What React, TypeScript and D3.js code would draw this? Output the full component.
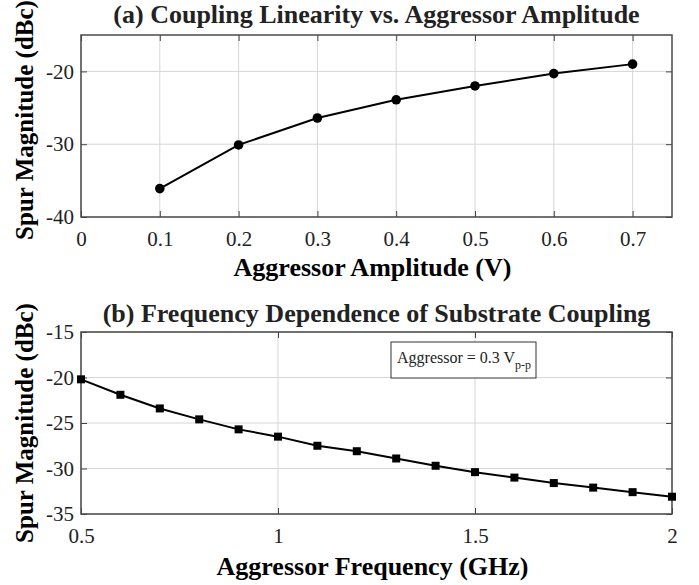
import React, { useEffect, useRef } from 'react';
import * as d3 from 'd3';

const W = 699;
const H = 585;

// panel (a)
const ampV = [0.1, 0.2, 0.3, 0.4, 0.5, 0.6, 0.7];
const ampSpur = [-36.1, -30.1, -26.4, -23.9, -22.0, -20.3, -19.0];
const ampXTicks = [0, 0.1, 0.2, 0.3, 0.4, 0.5, 0.6, 0.7];
const ampYTicks = [-40, -30, -20];

// panel (b)
const freqGHz = [0.5, 0.6, 0.7, 0.8, 0.9, 1.0, 1.1, 1.2, 1.3, 1.4, 1.5, 1.6, 1.7, 1.8, 1.9, 2.0];
const freqSpur = [-20.2, -21.9, -23.4, -24.6, -25.7, -26.5, -27.5, -28.1, -28.9, -29.7, -30.4, -31.0, -31.6, -32.1, -32.6, -33.1];
const freqXTicks = [0.5, 1, 1.5, 2];
const freqYTicks = [-35, -30, -25, -20, -15];

const FONT = 'Liberation Serif, Times New Roman, Times, DejaVu Serif, serif';
const LEFT = 81;
const RIGHT = 672;

interface Panel {
  top: number;
  bottom: number;
  xDomain: [number, number];
  yDomain: [number, number];
  xTicks: number[];
  yTicks: number[];
  xs: number[];
  ys: number[];
  title: string;
  titleY: number;
  xLabel: string;
  xLabelY: number;
  yLabelY: number;
  marker: 'circle' | 'square';
}

function drawPanel(svg: d3.Selection<SVGSVGElement, unknown, null, undefined>, p: Panel) {
  const x = d3.scaleLinear().domain(p.xDomain).range([LEFT, RIGHT]);
  const y = d3.scaleLinear().domain(p.yDomain).range([p.bottom, p.top]);
  const g = svg.append('g');

  // grid
  g.selectAll('line.gx')
    .data(p.xTicks)
    .join('line')
    .attr('x1', (d) => x(d))
    .attr('x2', (d) => x(d))
    .attr('y1', p.top)
    .attr('y2', p.bottom)
    .attr('stroke', '#d6d6d6')
    .attr('stroke-width', 1);
  g.selectAll('line.gy')
    .data(p.yTicks)
    .join('line')
    .attr('x1', LEFT)
    .attr('x2', RIGHT)
    .attr('y1', (d) => y(d))
    .attr('y2', (d) => y(d))
    .attr('stroke', '#d6d6d6')
    .attr('stroke-width', 1);

  const fmt = (d: d3.NumberValue) => `${d}`;

  // axes, ticks pointing inward
  const bottomAx = g
    .append('g')
    .attr('transform', `translate(0,${p.bottom})`)
    .call(d3.axisBottom(x).tickValues(p.xTicks).tickSize(-6).tickPadding(14).tickFormat(fmt));
  const leftAx = g
    .append('g')
    .attr('transform', `translate(${LEFT},0)`)
    .call(d3.axisLeft(y).tickValues(p.yTicks).tickSize(-6).tickPadding(7).tickFormat(fmt));
  const topAx = g
    .append('g')
    .attr('transform', `translate(0,${p.top})`)
    .call(d3.axisTop(x).tickValues(p.xTicks).tickSize(-6).tickFormat(() => ''));
  const rightAx = g
    .append('g')
    .attr('transform', `translate(${RIGHT},0)`)
    .call(d3.axisRight(y).tickValues(p.yTicks).tickSize(-6).tickFormat(() => ''));

  [bottomAx, leftAx, topAx, rightAx].forEach((a) => {
    a.select('.domain').remove();
    a.attr('font-family', null).attr('font-size', null);
    a.selectAll('line').attr('stroke', '#444').attr('stroke-width', 1);
    a.selectAll('text').style('font-family', FONT).style('font-size', '21px').attr('fill', '#222');
  });

  g.append('rect')
    .attr('x', LEFT)
    .attr('y', p.top)
    .attr('width', RIGHT - LEFT)
    .attr('height', p.bottom - p.top)
    .attr('fill', 'none')
    .attr('stroke', '#4a4a4a')
    .attr('stroke-width', 1.5);

  // series
  const pts = p.xs.map((v, i) => [v, p.ys[i]] as [number, number]);
  const line = d3
    .line<[number, number]>()
    .x((d) => x(d[0]))
    .y((d) => y(d[1]));
  g.append('path').datum(pts).attr('fill', 'none').attr('stroke', '#000').attr('stroke-width', 2).attr('d', line);

  if (p.marker === 'circle') {
    g.selectAll('circle.m')
      .data(pts)
      .join('circle')
      .attr('cx', (d) => x(d[0]))
      .attr('cy', (d) => y(d[1]))
      .attr('r', 4.8)
      .attr('fill', '#000');
  } else {
    g.selectAll('rect.m')
      .data(pts)
      .join('rect')
      .attr('x', (d) => x(d[0]) - 4)
      .attr('y', (d) => y(d[1]) - 4)
      .attr('width', 8)
      .attr('height', 8)
      .attr('fill', '#000');
  }

  // title and labels
  g.append('text')
    .attr('x', (LEFT + RIGHT) / 2)
    .attr('y', p.titleY)
    .attr('text-anchor', 'middle')
    .style('font-family', FONT)
    .style('font-weight', 'bold')
    .style('font-size', '26px')
    .attr('fill', '#222')
    .text(p.title);

  g.append('text')
    .attr('x', (LEFT + RIGHT) / 2 - 4)
    .attr('y', p.xLabelY)
    .attr('text-anchor', 'middle')
    .style('font-family', FONT)
    .style('font-weight', 'bold')
    .style('font-size', '26px')
    .attr('fill', '#000')
    .text(p.xLabel);

  g.append('text')
    .attr('transform', `translate(33,${p.yLabelY}) rotate(-90)`)
    .attr('text-anchor', 'middle')
    .style('font-family', FONT)
    .style('font-weight', 'bold')
    .style('font-size', '25px')
    .attr('fill', '#000')
    .text('Spur Magnitude (dBc)');

  return { x, y, g };
}

const App: React.FC = () => {
  const ref = useRef<SVGSVGElement>(null);

  useEffect(() => {
    const svg = d3.select(ref.current as SVGSVGElement);
    svg.selectAll('*').remove();

    drawPanel(svg, {
      top: 35,
      bottom: 217,
      xDomain: [0, 0.75],
      yDomain: [-40, -15],
      xTicks: ampXTicks,
      yTicks: ampYTicks,
      xs: ampV,
      ys: ampSpur,
      title: '(a) Coupling Linearity vs. Aggressor Amplitude',
      titleY: 23,
      xLabel: 'Aggressor Amplitude (V)',
      xLabelY: 276,
      yLabelY: 120,
      marker: 'circle',
    });

    const b = drawPanel(svg, {
      top: 332,
      bottom: 514,
      xDomain: [0.5, 2],
      yDomain: [-35, -15],
      xTicks: freqXTicks,
      yTicks: freqYTicks,
      xs: freqGHz,
      ys: freqSpur,
      title: '(b) Frequency Dependence of Substrate Coupling',
      titleY: 322,
      xLabel: 'Aggressor Frequency (GHz)',
      xLabelY: 575,
      yLabelY: 423,
      marker: 'square',
    });

    // annotation box
    const box = b.g.append('g').attr('transform', 'translate(391,342)');
    box.append('rect').attr('width', 145).attr('height', 36).attr('fill', '#fff').attr('stroke', '#333').attr('stroke-width', 1);
    const t = box
      .append('text')
      .attr('x', 6)
      .attr('y', 21)
      .style('font-family', FONT)
      .style('font-size', '16px')
      .attr('fill', '#222');
    t.append('tspan').text('Aggressor = 0.3 V');
    t.append('tspan').attr('dy', 6).style('font-size', '12px').text('p-p');
  }, []);

  return (
    <svg
      ref={ref}
      width={W}
      height={H}
      style={{ position: 'absolute', left: 0, top: 0, background: '#fff' }}
    />
  );
};

export default App;
